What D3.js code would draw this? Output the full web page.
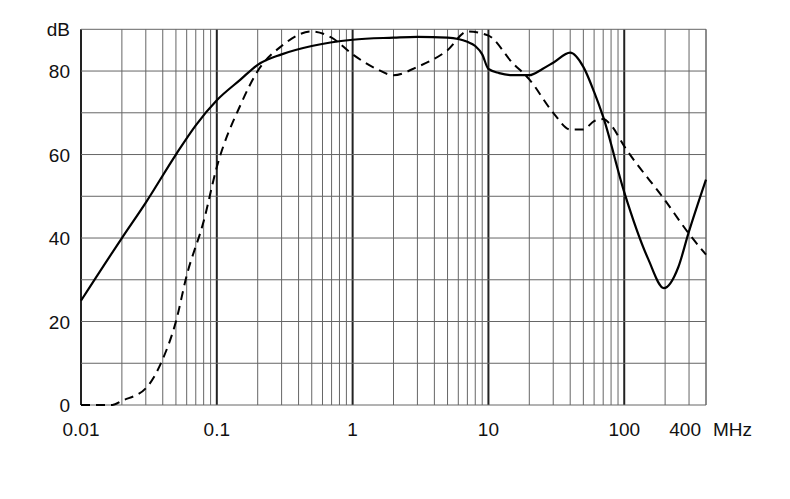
<!DOCTYPE html><html><head><meta charset="utf-8">
<script src="https://cdn.jsdelivr.net/npm/d3@7"></script>
<style>body{margin:0;background:#fff}text{font-family:"Liberation Sans",Arial,sans-serif;font-size:19px;fill:#111}</style>
</head><body><svg id="c" width="790" height="499"></svg><script>
const solidF=[0.01,0.02,0.03,0.05,0.07,0.1,0.15,0.2,0.3,0.5,1,2,3,5,7,8,9,10,12,15,20,25,30,40,50,60,70,100,150,196,250,296,400];
const solidDB=[25,40,48.5,60,67,73,78,81.5,84,86,87.5,88,88.2,88,87,86,84,80.5,79.5,79,79,80.5,82,84.4,81,75,69,51,35,28,33,41,54];
const dashF=[0.01,0.017,0.02,0.03,0.04,0.05,0.06,0.08,0.1,0.15,0.2,0.3,0.5,0.7,1,1.5,2,3,5,7,10,15,20,30,40,50,60,70,80,100,200,300,400];
const dashDB=[0,0,1,4,11,20,31,44,57,72,80,86,89.5,88,84,80.5,79,81,85,89.5,88.5,82,78,70,66,66,68,68.5,67,62,49,41,36];
const yTicks=[0,20,40,60,80];
const xTicks=[0.01,0.1,1,10,100];
const svg=d3.select("#c");
const x=d3.scaleLog().domain([0.01,400]).range([81,706]);
const y=d3.scaleLinear().domain([0,90]).range([405,29.3]);
const g=svg.append("g");
const vlines=[];
for(let e=-2;e<=2;e++)for(let m=1;m<=9;m++){const v=m*Math.pow(10,e);if(v<=400)vlines.push(v);}
const isDec=d=>Math.abs(Math.log10(d)-Math.round(Math.log10(d)))<1e-9;
g.selectAll(".v").data(vlines).join("line").attr("x1",d=>x(d)).attr("x2",d=>x(d)).attr("y1",y(0)).attr("y2",y(90))
 .attr("stroke",d=>isDec(d)?"#222":"#666").attr("stroke-width",d=>isDec(d)?2:1);
g.selectAll(".h").data(d3.range(0,91,10)).join("line").attr("x1",x(0.01)).attr("x2",x(400)).attr("y1",d=>y(d)).attr("y2",d=>y(d)).attr("stroke","#666").attr("stroke-width",1);
g.append("line").attr("x1",x(400)).attr("x2",x(400)).attr("y1",y(0)).attr("y2",y(90)).attr("stroke","#666");
const line=d3.line().x(d=>x(d[0])).y(d=>y(d[1])).curve(d3.curveMonotoneX);
svg.append("path").attr("d",line(solidF.map((f,i)=>[f,solidDB[i]]))).attr("fill","none").attr("stroke","#000").attr("stroke-width",2.2);
svg.append("path").attr("d",line(dashF.map((f,i)=>[f,dashDB[i]]))).attr("fill","none").attr("stroke","#000").attr("stroke-width",2).attr("stroke-dasharray","9,6");
svg.selectAll(".yt").data(yTicks).join("text").attr("x",70).attr("y",d=>y(d)+7).attr("text-anchor","end").text(d=>d);
svg.append("text").attr("x",70).attr("y",y(90)+7).attr("text-anchor","end").text("dB");
svg.selectAll(".xt").data(xTicks).join("text").attr("x",d=>x(d)).attr("y",436).attr("text-anchor","middle").text(d=>d);
svg.append("text").attr("x",x(400)-5).attr("y",436).attr("text-anchor","end").text("400");
svg.append("text").attr("x",713).attr("y",436).text("MHz");
</script></body></html>
